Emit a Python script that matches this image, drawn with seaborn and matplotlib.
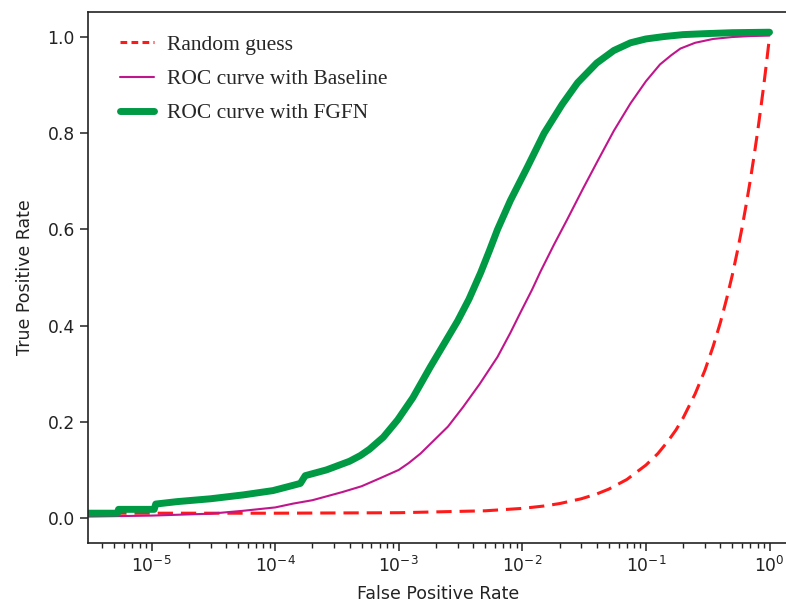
import numpy as np
import pandas as pd
import matplotlib
matplotlib.use("Agg")
import matplotlib.pyplot as plt
import seaborn as sns

# False positive rate / true positive rate samples for each curve
random_fpr = [3.06e-6, 1e-4, 1e-3, 5e-3, 1e-2, 1.5e-2, 2e-2, 3e-2, 4e-2, 5e-2, 7e-2,
              0.1, 0.125, 0.15, 0.175, 0.2, 0.25, 0.3, 0.35, 0.4, 0.45, 0.5, 0.55,
              0.6, 0.65, 0.7, 0.75, 0.8, 0.85, 0.9, 0.95, 1.0]
random_tpr = [0.010, 0.010, 0.011, 0.015, 0.020, 0.025, 0.030, 0.040, 0.050, 0.060,
              0.080, 0.110, 0.134, 0.159, 0.183, 0.208, 0.258, 0.307, 0.357, 0.406,
              0.456, 0.505, 0.555, 0.604, 0.654, 0.703, 0.753, 0.802, 0.852, 0.901,
              0.951, 1.0]

baseline_fpr = [3.06e-6, 1e-5, 3e-5, 5.5e-5, 1.0e-4, 1.4e-4, 2.0e-4, 3.5e-4, 5e-4,
                7.1e-4, 1.0e-3, 1.2e-3, 1.5e-3, 1.8e-3, 2.5e-3, 3.3e-3, 4.5e-3, 6.3e-3,
                8e-3, 9.6e-3, 1.2e-2, 1.4e-2, 1.8e-2, 2.3e-2, 3.1e-2, 4.1e-2, 5.5e-2,
                7.5e-2, 0.1, 0.13, 0.16, 0.19, 0.25, 0.35, 0.5, 0.7, 1.0]
baseline_tpr = [0.003, 0.005, 0.009, 0.015, 0.022, 0.030, 0.037, 0.054, 0.066,
                0.083, 0.100, 0.114, 0.134, 0.154, 0.190, 0.230, 0.278, 0.335,
                0.385, 0.426, 0.475, 0.512, 0.568, 0.620, 0.685, 0.744, 0.805,
                0.862, 0.908, 0.943, 0.962, 0.976, 0.988, 0.996, 1.000, 1.002, 1.003]

fgfn_fpr = [3.06e-6, 5.3e-6, 5.4e-6, 1.05e-5, 1.08e-5, 1.6e-5, 3e-5, 5.5e-5, 9.6e-5,
            1.4e-4, 1.6e-4, 1.75e-4, 2.6e-4, 4.0e-4, 4.9e-4, 5.8e-4, 7.5e-4, 9.8e-4,
            1.3e-3, 1.8e-3, 2.3e-3, 3.0e-3, 3.7e-3, 4.6e-3, 5.4e-3, 6.3e-3, 8e-3,
            1.1e-2, 1.5e-2, 2.1e-2, 2.8e-2, 4.0e-2, 5.5e-2, 7.5e-2, 0.1, 0.14, 0.2,
            0.3, 0.5, 1.0]
fgfn_tpr = [0.010, 0.010, 0.018, 0.018, 0.029, 0.034, 0.040, 0.048, 0.057,
            0.068, 0.072, 0.088, 0.100, 0.118, 0.130, 0.143, 0.168, 0.204,
            0.250, 0.314, 0.360, 0.410, 0.455, 0.510, 0.555, 0.600, 0.660,
            0.730, 0.800, 0.860, 0.905, 0.946, 0.972, 0.988, 0.996, 1.001, 1.005,
            1.007, 1.009, 1.010]

xticks = [1e-5, 1e-4, 1e-3, 1e-2, 1e-1, 1e0]
yticks = [0.0, 0.2, 0.4, 0.6, 0.8, 1.0]

sns.set_style("ticks")
plt.rcParams["font.family"] = ["DejaVu Sans"]

fig = plt.figure(figsize=(7.86, 6.10), dpi=100)
ax = fig.add_axes([0.112, 0.1098, 0.8906, 0.8705])

df_rand = pd.DataFrame({"fpr": random_fpr, "tpr": random_tpr})
df_base = pd.DataFrame({"fpr": baseline_fpr, "tpr": baseline_tpr})
df_fgfn = pd.DataFrame({"fpr": fgfn_fpr, "tpr": fgfn_tpr})

sns.lineplot(data=df_rand, x="fpr", y="tpr", ax=ax, color="#ff1a1a",
             dashes=False, linewidth=2.2, estimator=None, sort=False,
             label="Random guess")
ax.lines[-1].set_dashes((5, 2.6))
sns.lineplot(data=df_base, x="fpr", y="tpr", ax=ax, color="#c0168c", linewidth=1.5,
             estimator=None, sort=False, label="ROC curve with Baseline")
sns.lineplot(data=df_fgfn, x="fpr", y="tpr", ax=ax, color="#009a44", linewidth=5,
             estimator=None, sort=False, label="ROC curve with FGFN")

ax.set_xscale("log")
ax.set_xlim(3.06e-6, 10 ** 0.15)
ax.set_ylim(-0.052, 1.052)
ax.set_xticks(xticks)
ax.set_yticks(yticks)
ax.set_yticklabels([f"{v:.1f}" for v in yticks])

ax.tick_params(axis="both", which="major", labelsize=12.3, length=6, width=1.1,
               colors="#222222")
ax.tick_params(axis="x", which="minor", length=3.5, width=1.0, colors="#222222")
for s in ax.spines.values():
    s.set_linewidth(1.2)
    s.set_color("#222222")

ax.set_xlabel("False Positive Rate", fontsize=12.5, color="#222222", labelpad=6)
ax.set_ylabel("True Positive Rate", fontsize=12.5, color="#222222", labelpad=10)

leg = ax.legend(loc="upper left", bbox_to_anchor=(0.013, 1.0), frameon=False,
                prop={"family": "Liberation Serif", "size": 15.5},
                handlelength=1.58, handletextpad=0.6, labelspacing=0.66,
                borderaxespad=0.66)
leg.get_lines()[0].set_dashes((2.2, 1.4))

fig.savefig("out.png", dpi=100)
